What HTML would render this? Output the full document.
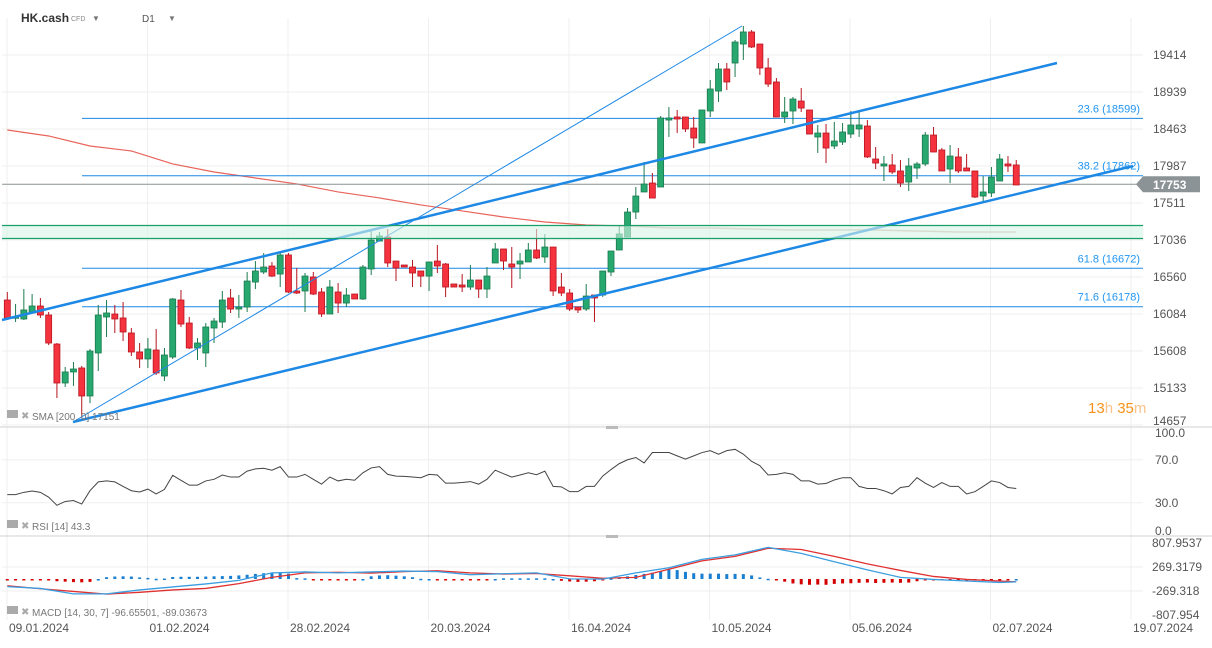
<!DOCTYPE html>
<html><head><meta charset="utf-8"><style>
body{margin:0;background:#fff;font-family:"Liberation Sans",sans-serif;}
svg{display:block}
</style></head><body>
<svg id="chart" width="1212" height="648" viewBox="0 0 1212 648" font-family="Liberation Sans, sans-serif">
<g id="grid"></g>
<g id="price"></g>
<g id="rsi"></g>
<g id="macd"></g>
<g id="labels">
  <text x="21" y="22" font-size="12" font-weight="bold" fill="#333">HK.cash</text>
  <text x="71" y="21" font-size="7" fill="#888">CFD</text>
  <text x="92" y="21" font-size="8" fill="#777">▼</text>
  <text x="142" y="22" font-size="10" fill="#555">D1</text>
  <text x="168" y="21" font-size="8" fill="#777">▼</text>
  <text x="1088" y="413" font-size="15" fill="#f7931a">13<tspan fill="#f9c38a">h</tspan> 35<tspan fill="#f9c38a">m</tspan></text>
  <text x="32" y="420" font-size="10" fill="#777">SMA [200, 0] 17151</text>
  <text x="32" y="530" font-size="10" fill="#777">RSI [14]  43.3</text>
  <text x="32" y="616" font-size="10" fill="#777">MACD [14, 30, 7] -96.65501,  -89.03673</text>
  <rect x="7" y="410" width="11" height="8" fill="#aaa"/>
  <text x="21" y="419" font-size="10" fill="#aaa">✖</text>
  <rect x="7" y="520" width="11" height="8" fill="#aaa"/>
  <text x="21" y="529" font-size="10" fill="#aaa">✖</text>
  <rect x="7" y="606" width="11" height="8" fill="#aaa"/>
  <text x="21" y="615" font-size="10" fill="#aaa">✖</text>
</g>
</svg>
<script>
const opens=[16264,16029,16020,16097,16187,16071,15698,15197,15339,15390,15030,15583,16046,16084,16033,15840,15596,15506,15621,15287,15531,16264,15968,15647,15583,15904,15981,16290,16148,16174,16495,16624,16701,16598,16843,16380,16380,16560,16367,16084,16367,16225,16341,16277,16663,17022,17074,16765,16714,16688,16637,16572,16765,16727,16470,16457,16431,16521,16405,16740,16920,16727,16727,16753,16907,16817,16945,16431,16354,16174,16148,16328,16328,16624,16907,17074,17395,17653,17768,17717,18578,18617,18617,18475,18283,18694,18951,19234,19311,19555,19710,19555,19247,19067,18617,18694,18822,18707,18360,18411,18244,18295,18398,18463,18501,18077,17987,18000,17923,17781,17961,18013,18385,18193,17948,18103,17961,17923,17601,17640,17794,18013,18000];
const highs=[16367,16213,16405,16341,16290,16110,15711,15403,15467,15416,15634,16200,16264,16200,16238,15904,15711,15775,15891,15647,16290,16393,16046,15775,15968,16033,16380,16405,16328,16624,16765,16868,16753,16868,16868,16676,16611,16624,16418,16521,16482,16418,16341,16714,17151,17138,17177,16765,16714,16778,16637,16753,16971,16740,16470,16598,16714,16521,16688,16997,16920,16945,16868,16997,17177,17113,16945,16611,16405,16174,16470,16328,16637,16894,17215,17447,17717,18038,17897,18630,18745,18707,18617,18617,18707,19092,19311,19311,19607,19787,19735,19555,19375,19118,18874,18874,18990,18707,18514,18527,18553,18540,18694,18681,18578,18231,18115,18141,18064,18090,18038,18424,18488,18218,18257,18218,18141,17923,17858,17974,18141,18115,18064];
const lows=[16007,15981,16007,16097,16033,15685,15004,15146,15159,14746,14939,15351,15788,15840,15737,15544,15390,15390,15300,15223,15506,15917,15634,15493,15403,15711,15904,16097,16033,16110,16405,16598,16560,16431,16354,16341,16110,16328,16046,16084,16097,16174,16277,16264,16585,17022,16688,16508,16688,16431,16431,16380,16611,16302,16431,16367,16393,16290,16290,16740,16650,16418,16534,16753,16791,16740,16315,16315,16123,16097,16123,15981,16303,16572,16907,17074,17305,17653,17575,17717,18360,18411,18424,18218,18283,18617,18810,18964,19131,19350,19504,19157,19002,18617,18540,18527,18681,18398,18154,18025,18205,18257,18347,18360,18090,17948,17794,17884,17717,17665,17820,17987,18167,17923,17768,17897,17923,17575,17537,17588,17794,17910,17743];
const closes=[16033,16050,16136,16187,16071,15711,15197,15339,15377,15030,15608,16071,16097,16020,15853,15596,15506,15634,15326,15557,16277,15955,15647,15711,15917,15994,16264,16148,16174,16508,16637,16688,16572,16843,16367,16354,16572,16341,16084,16431,16225,16328,16277,16688,17035,17087,16740,16675,16688,16611,16572,16753,16701,16431,16431,16431,16521,16405,16572,16920,16765,16688,16765,16907,16804,16945,16380,16354,16148,16136,16315,16290,16637,16894,17113,17395,17601,17755,17575,18604,18604,18591,18463,18347,18707,18977,19234,19067,19581,19710,19517,19247,19041,18617,18681,18848,18732,18398,18411,18218,18308,18424,18514,18514,18103,18025,18013,17910,17768,17987,18013,18385,18167,17923,18115,17923,17923,17588,17653,17845,18077,17987,17743];
const smaIdx=[0,5,10,15,20,25,30,35,40,45,50,55,60,65,70,75,80,85,90,95,100,105,110,115,120,122];
const smaValues=[18450,18373,18244,18180,18013,17910,17833,17756,17653,17576,17486,17409,17331,17267,17228,17215,17190,17190,17177,17164,17164,17164,17151,17138,17138,17138];
const priceTicks=[19414,18939,18463,17987,17511,17036,16560,16084,15608,15133,14657];
const fibLevels=[18599,17862,16672,16178];
const fibNames=["23.6 (18599)","38.2 (17862)","61.8 (16672)","71.6 (16178)"];
const zoneTop=17222, zoneBottom=17055, lastPrice=17753;
const dateLabels=["09.01.2024","01.02.2024","28.02.2024","20.03.2024","16.04.2024","10.05.2024","05.06.2024","02.07.2024","19.07.2024"];
const rsiValues=[37.6,37.6,39.7,40.9,39.7,35.2,27.6,31.2,32.1,28.8,41.2,49.4,50.3,49.4,45.2,41.2,40.0,42.7,38.2,42.4,55.5,50.9,46.4,46.4,50.3,51.8,55.8,53.9,53.9,59.4,61.5,62.1,60.3,63.6,53.9,53.9,56.4,51.8,47.3,53.9,50.3,51.8,50.9,57.9,62.4,63.6,56.4,54.8,54.5,53.9,53.3,56.4,55.8,48.2,48.2,48.8,49.7,47.3,51.8,60.3,57.0,53.9,55.8,57.9,56.1,59.4,45.2,44.8,40.3,40.3,45.2,45.2,54.8,
60.9,66.4,70,72.1,67.0,76.7,76.7,76.7,73.6,70.6,73.6,76.7,78.5,75.2,78.5,79.7,75.2,68.5,64.5,55.8,56.4,57.9,56.4,50.3,50.3,47.3,47.9,51.2,53.3,53.3,45.2,43.3,43.3,41.2,38.2,44.2,45.2,53.3,48.2,44.2,48.8,45.2,45.2,38.2,40.3,45.2,50.3,48.8,44.2,43.3];
const rsiTicks=[100,70,30,0];
const macdIdx=[0,4,8,12,16,20,24,28,32,36,40,44,48,52,56,60,64,68,72,76,80,84,88,92,96,100,104,108,112,116,120,122];
const macdValues=[-171,-212,-333,-333,-245,-178,-111,-30,138,158,138,158,178,165,97,118,138,3,-3,138,252,440,541,709,575,386,205,37,-10,-44,-77,-64];
const signalValues=[-151,-218,-279,-339,-299,-245,-212,-104,37,138,151,131,165,185,138,111,124,71,17,37,218,407,507,689,662,507,339,192,57,-10,-44,-64];
const histValues=[-15,-15,-15,-15,-15,-15,-50,-60,-70,-75,-65,0,40,55,60,55,35,25,5,10,45,50,50,50,55,60,65,70,80,95,115,130,135,135,120,20,15,-10,-10,-10,-10,-10,-10,0,60,80,85,75,60,40,5,0,-5,-20,-20,-20,-20,-20,-20,0,15,15,15,15,15,15,0,-40,-55,-65,-60,-50,-10,
15,35,60,90,115,140,180,215,200,160,130,120,120,120,110,115,110,80,35,5,-30,-60,-100,-120,-130,-125,-130,-110,-100,-95,-85,-80,-90,-85,-80,-85,-80,-50,-25,-15,-20,-20,-25,-25,-25,-30,-25,-20,-5,0];
const macdTicks=[807.9537,269.3179,-269.318,-807.954];
const macdTickText=["807.9537","269.3179","-269.318","-807.954"];

const NS="http://www.w3.org/2000/svg";
function mk(parent,tag,attrs){const e=document.createElementNS(NS,tag);for(const k in attrs)e.setAttribute(k,attrs[k]);parent.appendChild(e);return e;}
const xS=i=>7.3+8.27*i;
const yP=p=>55+(19414-p)*0.07778;
const yR=v=>535-v*1.075;
const yM=v=>579-v*0.0446;
const G=document.getElementById('grid'),P=document.getElementById('price'),R=document.getElementById('rsi'),M=document.getElementById('macd');

// grid
for(let k=0;k<9;k++){const x=7+140.5*k;
 const l=mk(G,'line',{x1:x,x2:x,y1:18,y2:620,stroke:'#efefef'});
 
 
 const t=mk(G,'text',{x:x+2,y:632,'font-size':12,fill:'#555'});t.textContent=dateLabels[k];
 
 }
priceTicks.forEach(p=>{const y=yP(p);
 const l=mk(G,'line',{x1:2,x2:1143,y1:y,y2:y,stroke:'#efefef'});
 
 
 const t=mk(G,'text',{x:1153,y:Math.min(y,421)+4,'font-size':12,fill:'#555'});t.textContent=p;
 
 });
[427,536].forEach(y=>{const l=mk(G,'line',{x1:0,x2:1212,y1:y,y2:y,stroke:'#d0d0d0'});
 
 });
const h1=mk(G,'rect',{x:606,y:426,width:12,height:3,fill:'#bbb'});


const h2=mk(G,'rect',{x:606,y:535,width:12,height:3,fill:'#bbb'});



// SMA (solid red until zone crossing, faded after)
let d1='',d2='';smaIdx.forEach((i,k)=>{const pt=xS(i)+','+yP(smaValues[k]);
 if(i<=75)d1+=(d1?'L':'M')+pt;
 if(i>=75)d2+=(d2?'L':'M')+pt;});
const sma=mk(P,'path',{d:d1,fill:'none',stroke:'#e8645a','stroke-width':1.2});


const sma2=mk(P,'path',{d:d2,fill:'none',stroke:'#d9b8ae','stroke-width':1.5});



// fib lines
fibLevels.forEach((f,k)=>{const y=yP(f);
 const l=mk(P,'line',{x1:82,x2:1143,y1:y,y2:y,stroke:'#1e88e5','stroke-width':1});
 
 
 const t=mk(P,'text',{x:1140,y:y-6,'font-size':11,fill:'#2196f3','text-anchor':'end'});t.textContent=fibNames[k];
 
 });

// current price line
const cp=mk(P,'line',{x1:2,x2:1143,y1:yP(lastPrice),y2:yP(lastPrice),stroke:'#8c9396'});



// candles
for(let i=0;i<opens.length;i++){const x=xS(i),up=closes[i]>=opens[i];
 const fill=up?'#27a86f':'#f5333f',st=up?'#1b7a4f':'#b8141f';
 const g=mk(P,'g',{});
 
 
 mk(g,'line',{x1:x,x2:x,y1:yP(highs[i]),y2:yP(lows[i]),stroke:st,'stroke-width':1});
 const t=yP(Math.max(opens[i],closes[i])),b=yP(Math.min(opens[i],closes[i]));
 mk(g,'rect',{x:x-3,y:t,width:6,height:Math.max(1,b-t),fill:fill,stroke:st,'stroke-width':0.8});}

// trend lines
[[2,320,1057,63,2.5,'upper-channel-line'],[73,422,1133,166,2.5,'lower-channel-line'],[73,422,742,26,1,'thin-trend-line']].forEach(a=>{
 const l=mk(P,'line',{x1:a[0],y1:a[1],x2:a[2],y2:a[3],stroke:'#1e88e5','stroke-width':a[4]});
 
 });

// zone overlay
const z=mk(P,'rect',{x:2,y:yP(zoneTop),width:1141,height:yP(zoneBottom)-yP(zoneTop),fill:'rgba(215,243,230,0.6)'});


[zoneTop,zoneBottom].forEach(v=>{const l=mk(P,'line',{x1:2,x2:1143,y1:yP(v),y2:yP(v),stroke:'#17a06a','stroke-width':1.2});
 
 });

// price tag
const tag=mk(P,'g',{});


const ty=yP(lastPrice);
mk(tag,'path',{d:`M1136,${ty} L1143,${ty-8} L1200,${ty-8} L1200,${ty+8} L1143,${ty+8} Z`,fill:'#8c9396'});
const tt=mk(tag,'text',{x:1153,y:ty+5,'font-size':12,'font-weight':'bold',fill:'#fff'});tt.textContent=lastPrice;

// RSI
[70,30].forEach(v=>{const l=mk(R,'line',{x1:2,x2:1143,y1:yR(v),y2:yR(v),stroke:'#efefef'});
 
 });
rsiTicks.forEach(v=>{const cy=Math.min(Math.max(yR(v),433),531);
 const t=mk(R,'text',{x:1155,y:cy+4,'font-size':12,fill:'#555'});t.textContent=v.toFixed(1);
 
 });
let d='';rsiValues.forEach((v,i)=>{d+=(i?'L':'M')+xS(i)+','+yR(v);});
const rl=mk(R,'path',{d:d,fill:'none',stroke:'#444','stroke-width':1});



// MACD
[269.3179,-269.318].forEach(v=>{const l=mk(M,'line',{x1:2,x2:1143,y1:yM(v),y2:yM(v),stroke:'#efefef'});
 
 });
macdTicks.forEach((v,k)=>{const t=mk(M,'text',{x:1152,y:yM(v)+4,'font-size':12,fill:'#555'});t.textContent=macdTickText[k];
 
 });
histValues.forEach((v,i)=>{const y0=yM(0),y1=yM(v);
 const r=mk(M,'rect',{x:xS(i)-1.5,y:Math.min(y0,y1),width:3,height:Math.max(1.5,Math.abs(y1-y0)),fill:v>=0?'#1a7fd0':'#d40000'});
 
 });
d='';macdIdx.forEach((i,k)=>{d+=(k?'L':'M')+xS(i)+','+yM(signalValues[k]);});
const sl=mk(M,'path',{d:d,fill:'none',stroke:'#e03030','stroke-width':1.3});


d='';macdIdx.forEach((i,k)=>{d+=(k?'L':'M')+xS(i)+','+yM(macdValues[k]);});
const ml=mk(M,'path',{d:d,fill:'none',stroke:'#3a9ee0','stroke-width':1.3});


</script>
</body></html>
